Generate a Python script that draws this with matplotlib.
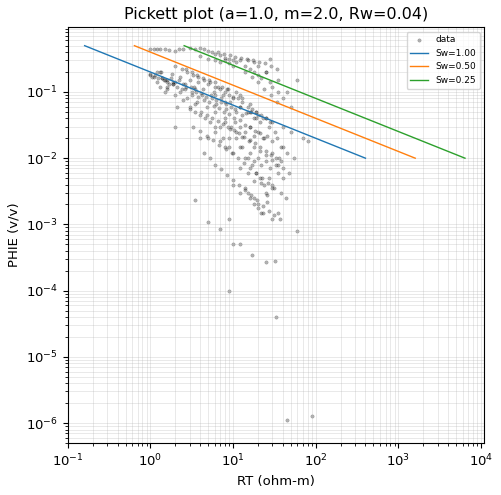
import matplotlib
matplotlib.use("Agg")
import matplotlib.pyplot as plt
import numpy as np

plt.rcParams["font.size"] = 9.5

a, m, n, Rw = 1.0, 2.0, 2.0, 0.04
sw_values = [1.00, 0.50, 0.25]
sw_colors = ["#1f77b4", "#ff7f0e", "#2ca02c"]
phi_ends = [0.5, 0.01]

rt = [1.0,1.1,1.2,1.3,1.5,1.7,2.0,2.2,2.5,3.0,3.5,4.0,4.5,5.0,5.5,6.0,7.0,8.0,9.0,10,
      1.0,1.1,1.2,1.4,1.6,1.8,2.0,2.3,2.6,3.0,3.4,3.8,4.3,5.0,5.8,6.5,7.5,8.5,10,12,
      1.3,1.5,1.7,2.0,2.4,2.8,3.2,3.7,4.2,4.8,5.5,6.3,7.2,8.2,9.5,11,13,15,18,21,
      2.0,2.4,2.8,3.3,3.8,4.5,5.2,6.0,7.0,8.0,9.0,10,11.5,13,15,17,19,22,25,28,
      3.0,3.5,4.0,4.6,5.3,6.1,7.0,8.0,9.2,10.5,12,14,16,18,20,23,26,30,34,38,
      4.0,5.0,6.0,7.0,8.0,9.0,10,11,12,14,16,18,20,22,25,28,30,35,40,50,
      5.0,6.0,7.0,8.0,9.0,10,12,14,16,18,20,22,25,28,30,33,36,40,45,55,
      6.0,7.5,9.0,11,13,15,17,19,21,24,27,30,35,40,15,18,20,25,30,22,
      10,12,14,16,18,20,23,26,30,35,12,15,18,22,26,
      3.5,5.0,7.0,9.0,10,12,17,25,32,60,9.0,33,45,90,
      1.5,2.5,3.5,6.0,8.0,12,16,20,25,30,40,50,70,80,2.0,4.0,
      15,20,25,35,45,60,18,28,
      1.2,1.4,1.6,1.9,2.2,2.6,3.1,3.6,4.1,4.7,5.4,6.2,7.1,8.1,9.3,10.7,12.3,14.2,16.3,18.8,
      1.3,1.6,1.9,2.3,2.7,3.2,3.8,4.4,5.1,5.9,6.8,7.8,9.0,10.4,12,13.8,15.9,18.3,21,24,
      2.1,2.5,3.0,3.5,4.1,4.8,5.6,6.5,7.6,8.8,10.2,11.8,13.7,15.9,18.4,21.3,24.7,28.6,33,38,
      3.3,4.0,4.8,5.7,6.8,8.1,9.6,11.4,13.5,16,19,22.5,26.7,31.6,37.5,44,
      4.4,5.2,6.1,7.2,8.5,10,11.8,13.9,16.4,19.3,22.8,26.9,31.7,37.4,
      6.5,7.7,9.1,10.7,12.6,14.9,17.6,20.7,24.4,28.8,34,
      8,9.5,11,13,15.5,18,21,25,29.5,35,40,48,
      1.0,1.05,1.15,1.25,1.35,1.45,1.6,1.75,1.9,2.1,2.7,3.2,3.7,4.3,5.1,6.1,7.3,8.7,
      11,13,16,19,23,27,32,14,17,20,24,29,34]
phie = [0.45,0.45,0.44,0.45,0.44,0.43,0.42,0.45,0.44,0.46,0.45,0.46,0.44,0.42,0.40,0.38,0.36,0.33,0.32,0.30,
        0.18,0.17,0.20,0.16,0.15,0.19,0.14,0.17,0.13,0.15,0.12,0.14,0.11,0.13,0.10,0.12,0.09,0.11,0.08,0.09,
        0.12,0.10,0.13,0.09,0.11,0.08,0.10,0.07,0.09,0.06,0.08,0.065,0.07,0.055,0.06,0.05,0.045,0.05,0.04,0.035,
        0.25,0.22,0.20,0.18,0.17,0.15,0.14,0.12,0.11,0.10,0.09,0.085,0.08,0.07,0.06,0.055,0.05,0.045,0.04,0.035,
        0.06,0.05,0.045,0.04,0.035,0.05,0.03,0.04,0.028,0.035,0.03,0.025,0.03,0.022,0.025,0.02,0.022,0.018,0.02,0.015,
        0.35,0.32,0.30,0.28,0.30,0.27,0.25,0.28,0.30,0.25,0.22,0.20,0.18,0.16,0.20,0.14,0.12,0.10,0.08,0.06,
        0.02,0.025,0.018,0.015,0.02,0.012,0.015,0.01,0.012,0.009,0.01,0.008,0.009,0.007,0.012,0.008,0.01,0.015,0.012,0.01,
        0.03,0.02,0.015,0.02,0.015,0.01,0.008,0.006,0.005,0.004,0.005,0.004,0.006,0.005,0.003,0.0025,0.002,0.003,0.0035,0.0015,
        0.004,0.003,0.0035,0.0025,0.002,0.0018,0.0015,0.0022,0.0012,0.0015,0.007,0.006,0.0045,0.0042,0.0028,
        0.0023,0.0011,0.00085,0.0001,0.0005,0.0005,0.00035,0.00027,0.00028,0.0008,0.0012,0.00004,0.0000011,0.0000013,
        0.15,0.13,0.11,0.09,0.07,0.06,0.05,0.045,0.04,0.035,0.03,0.025,0.02,0.018,0.03,0.02,
        0.3,0.25,0.2,0.15,0.1,0.15,0.28,0.32,
        0.14,0.16,0.12,0.13,0.15,0.11,0.12,0.10,0.095,0.085,0.09,0.075,0.08,0.065,0.07,0.055,0.06,0.048,0.05,0.04,
        0.20,0.11,0.14,0.10,0.12,0.09,0.085,0.075,0.07,0.062,0.058,0.05,0.046,0.04,0.038,0.032,0.03,0.026,0.024,0.02,
        0.06,0.075,0.055,0.065,0.05,0.045,0.04,0.036,0.033,0.03,0.027,0.024,0.021,0.019,0.017,0.015,0.013,0.011,0.01,0.009,
        0.03,0.026,0.022,0.019,0.016,0.014,0.012,0.01,0.0085,0.0072,0.006,0.005,0.0042,0.0035,0.003,0.0025,
        0.012,0.01,0.008,0.0068,0.0056,0.0047,0.004,0.0033,0.0028,0.0023,0.0019,0.0016,0.0014,0.0012,
        0.4,0.38,0.36,0.34,0.33,0.31,0.3,0.28,0.27,0.25,0.22,
        0.035,0.03,0.025,0.021,0.018,0.015,0.013,0.011,0.0095,0.008,0.007,0.006,
        0.19,0.17,0.18,0.16,0.2,0.15,0.14,0.16,0.13,0.12,0.22,0.2,0.18,0.16,0.15,0.14,0.12,0.11,
        0.1,0.08,0.065,0.05,0.04,0.03,0.025,0.2,0.17,0.14,0.11,0.09,0.07]

fig, ax = plt.subplots(figsize=(5.02, 4.95), dpi=100)
ax.scatter(rt, phie, s=6, c="black", alpha=0.3, linewidths=0.3, label="data")
phi = np.array(phi_ends)
for sw, c in zip(sw_values, sw_colors):
    r = a * Rw / (phi ** m * sw ** n)
    ax.plot(r, phi, color=c, lw=1, label=f"Sw={sw:.2f}")
ax.set_xscale("log"); ax.set_yscale("log")
ax.set_xlim(0.1, 11000); ax.set_ylim(5e-7, 0.95)
ax.grid(True, which="both", lw=0.5, alpha=0.4)
ax.set_xlabel("RT (ohm-m)"); ax.set_ylabel("PHIE (v/v)")
ax.set_title("Pickett plot (a=1.0, m=2.0, Rw=0.04)", fontsize=11.5)
ax.legend(loc="upper right", fontsize=6.5)
fig.subplots_adjust(left=0.135, right=0.965, bottom=0.105, top=0.945)
fig.savefig("out.png")
